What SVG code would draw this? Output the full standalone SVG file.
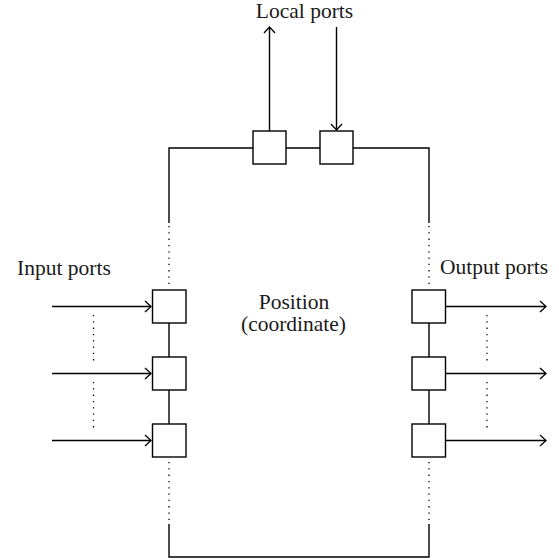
<svg xmlns="http://www.w3.org/2000/svg" width="559" height="560" viewBox="0 0 559 560">
<style>
.ln{stroke:#000;stroke-width:1.4;fill:none}
.dot{stroke:#000;stroke-width:1.3;fill:none;stroke-dasharray:1.3 5}
.box{stroke:#000;stroke-width:1.4;fill:#fff}
.t{font-family:"Liberation Serif","DejaVu Serif",serif;font-size:21.5px;fill:#1a1a1a}
</style>
<defs>
<marker id="ah" markerUnits="userSpaceOnUse" markerWidth="14" markerHeight="14" refX="0" refY="0" viewBox="-8 -7 10 14" orient="auto">
<path d="M-6,-5.5 L0,0 L-6,5.5" stroke="#000" stroke-width="1.3" fill="none"/>
</marker>
</defs>
<rect width="559" height="560" fill="#fff"/>
<g id="connectors">
<path class="ln" d="M169,223 V148 H253 M286,148 H320 M353,148 H429 V223"/>
<path class="dot" d="M169,226 V289 M429,226 V289 M169,462 V522 M429,462 V522"/>
<path class="ln" d="M169,524 V557 H429 V524"/>
<path class="ln" d="M169,323 V357 M169,390 V424 M429,323 V357 M429,390 V424"/>
<path class="ln" marker-end="url(#ah)" d="M269.5,131 V27"/>
<path class="ln" marker-end="url(#ah)" d="M336.5,27 V130"/>
<path class="ln" marker-end="url(#ah)" d="M52,306.5 H151"/>
<path class="ln" marker-end="url(#ah)" d="M52,373.5 H151"/>
<path class="ln" marker-end="url(#ah)" d="M52,440.5 H151"/>
<path class="ln" marker-end="url(#ah)" d="M446,306.5 H546"/>
<path class="ln" marker-end="url(#ah)" d="M446,373.5 H546"/>
<path class="ln" marker-end="url(#ah)" d="M446,440.5 H546"/>
<path class="dot" d="M93.5,315 V363 M93.5,382 V430 M487,315 V363 M487,382 V430"/>
</g>
<g id="local-out"><rect class="box" x="253" y="131" width="33" height="33"/></g>
<g id="local-in"><rect class="box" x="320" y="131" width="33" height="33"/></g>
<g id="in1"><rect class="box" x="152.5" y="290" width="33.5" height="33"/></g>
<g id="in2"><rect class="box" x="152.5" y="357" width="33.5" height="33"/></g>
<g id="in3"><rect class="box" x="152.5" y="424" width="33.5" height="33"/></g>
<g id="out1"><rect class="box" x="412" y="290" width="33.5" height="33"/></g>
<g id="out2"><rect class="box" x="412" y="357" width="33.5" height="33"/></g>
<g id="out3"><rect class="box" x="412" y="424" width="33.5" height="33"/></g>
<g id="labels">
<text class="t" x="304.5" y="18" text-anchor="middle">Local ports</text>
<text class="t" x="64" y="275" text-anchor="middle">Input ports</text>
<text class="t" x="494" y="274" text-anchor="middle">Output ports</text>
<text class="t" x="294" y="309" text-anchor="middle">Position</text>
<text class="t" x="293.5" y="331" text-anchor="middle">(coordinate)</text>
</g>
</svg>
